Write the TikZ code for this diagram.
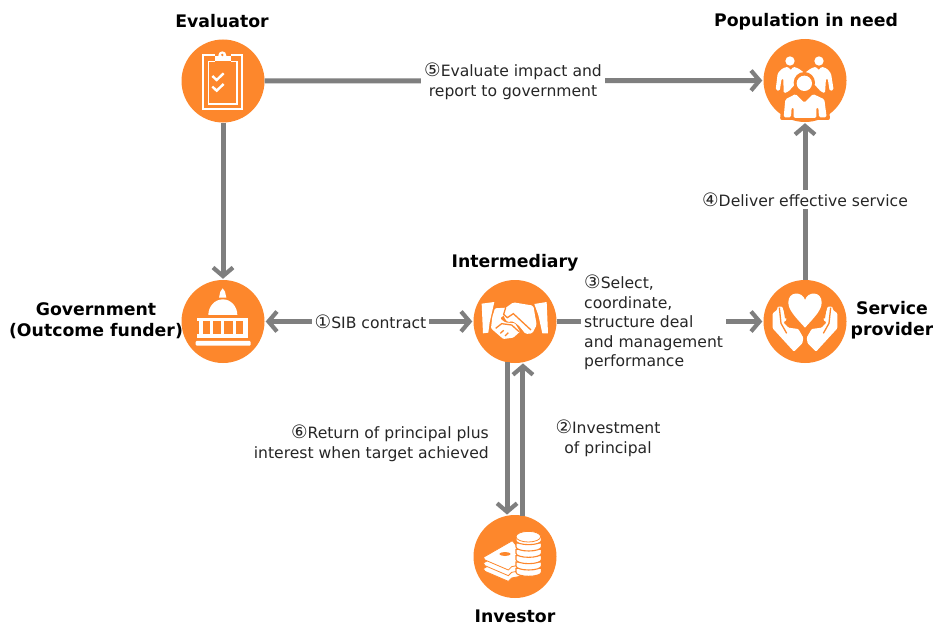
\documentclass[tikz,border=0pt]{standalone}
\usepackage{fontspec}
\setmainfont{DejaVu Sans}
\usetikzlibrary{arrows.meta}
\definecolor{org}{RGB}{253,135,44}
\definecolor{gr}{RGB}{127,127,127}
\definecolor{txt}{RGB}{38,38,38}
\newcommand{\dg}[1]{{\fontsize{18.5}{19.5}\selectfont #1}}
\tikzset{
  hub/.style={circle,fill=org,minimum size=83pt,inner sep=0pt,draw=none},
  barb/.tip={Straight Barb[length=8.5pt,width=20pt,line width=4.2pt]},
  arr/.style={gr,line width=5pt,-barb,shorten >=1pt},
  arrb/.style={gr,line width=5pt,barb-barb,shorten >=1pt,shorten <=1pt},
  lab/.style={fill=white,text=txt,font=\fontsize{15.6}{19.5}\selectfont,inner sep=3pt,align=center},
  ttl/.style={text=black,font=\fontsize{17.3}{21}\selectfont\bfseries,inner sep=0pt,align=center},
  ico/.style={fill=white,draw=none},
  iline/.style={draw=white,fill=none,line width=2pt},
  cut/.style={draw=org,line width=1.3pt}
}
\begin{document}
\begin{tikzpicture}[x=1pt,y=-1pt]
\useasboundingbox (0,0) rectangle (933,626);
\fill[white] (0,0) rectangle (933,626);
\node[hub] (eval) at (223,81) {};
\node[hub] (pop) at (805,80.5) {};
\node[hub] (gov) at (223,321.5) {};
\node[hub] (inter) at (515,321.5) {};
\node[hub] (serv) at (805,321.5) {};
\node[hub] (inv) at (515,556.5) {};
% connectors
\draw[arr] (eval) -- (pop);
\draw[arr] (eval) -- (gov);
\draw[arrb] (gov) -- (inter);
\draw[arr] (inter) -- (serv);
\draw[arr] (serv) -- (pop);
\draw[arr] (inter.-101) -- (inv.101);
\draw[arr] (inv.79) -- (inter.-79);
% labels
\node[lab] at (513,81.5) {\dg{⑤}Evaluate impact and\\report to government};
\node[lab] at (370.5,321.5) {\dg{①}SIB contract};
\node[lab] at (805,199.5) {\dg{④}Deliver effective service};
\node[lab,align=left,anchor=west,minimum height=100pt] at (581,322.5) {\dg{③}Select,\\coordinate,\\structure deal\\and management\\performance};
\node[lab,fill=none] at (608,438.5) {\dg{②}Investment\\of principal};
\node[lab,fill=none,align=right,anchor=east] at (492,443.5) {\dg{⑥}Return of principal plus\\interest when target achieved};
% titles
\node[ttl] at (222,21) {Evaluator};
\node[ttl] at (806,22) {Population in need};
\node[ttl] at (96,320.5) {Government\\(Outcome funder)};
\node[ttl] at (515,263) {Intermediary};
\node[ttl] at (892,320) {Service\\provider};
\node[ttl] at (515,616) {Investor};
% clipboard
\begin{scope}[shift={(160,20)},x=.3333pt,y=-.3333pt]
\draw[iline] (165,104) -- (130,104) -- (130,268) -- (247,268) -- (247,104) -- (212,104);
\draw[iline,line width=1.6pt] (165,124) -- (146,124) -- (146,252) -- (231,252) -- (231,124) -- (212,124);
\fill[ico] (187,106) circle [radius=12];
\fill[ico] (166,108) -- (212,108) -- (212,122) -- (166,122) -- cycle;
\fill[org] (187,105) circle [radius=4];
\draw[white,line width=2.4pt] (157,168) -- (170,180) -- (191,160);
\draw[white,line width=2.4pt] (157,200) -- (170,212) -- (191,192);
\end{scope}
% people
\begin{scope}[shift={(745,30)},x=.3333pt,y=-.3333pt]
\fill[ico] (135,93) circle [radius=14];
\fill[ico] (222,93) circle [radius=14];
\fill[ico,rounded corners=1.5pt] (92,180) -- (98,130) -- (112,115) -- (130,110) -- (137,122) -- (144,110) -- (160,115) -- (180,130) -- (130,185) -- (116,190) -- (115,145) -- (110,145) -- (104,183) -- cycle;
\fill[ico,rounded corners=1.5pt] (266,180) -- (258,130) -- (245,115) -- (228,110) -- (221,122) -- (214,110) -- (198,115) -- (178,130) -- (228,185) -- (240,190) -- (243,145) -- (248,145) -- (254,183) -- cycle;
\fill[org] (178,158) circle [radius=32];
\fill[org,rounded corners=2pt] (105,270) -- (112,195) -- (150,180) -- (210,180) -- (250,195) -- (255,270) -- cycle;
\fill[ico] (178,160) circle [radius=23];
\fill[ico,rounded corners=1.5pt] (116,262) -- (121,208) -- (152,192) -- (178,218) -- (204,192) -- (238,208) -- (245,262) -- (222,262) -- (220,232) -- (214,232) -- (214,264) -- (146,264) -- (146,232) -- (140,232) -- (138,262) -- cycle;
\end{scope}
% capitol
\begin{scope}[shift={(160,265)},x=.3333pt,y=-.3333pt]
\fill[ico] (188,70) -- (195,80) -- (199,98) -- (177,98) -- (181,80) -- cycle;
\fill[ico] (145,150) arc[start angle=180,end angle=360,x radius=43.5,y radius=47] -- cycle;
\fill[ico] (112,158) rectangle (265,168);
\fill[ico] (116,168) rectangle (129,208);
\fill[ico] (250,168) rectangle (263,208);
\fill[ico] (150,168) rectangle (160,208);
\fill[ico] (184,168) rectangle (193,208);
\fill[ico] (218,168) rectangle (228,208);
\fill[ico] (112,208) rectangle (265,218);
\fill[ico,rounded corners=1pt] (107,228) rectangle (272,242);
\end{scope}
% handshake
\begin{scope}[shift={(455,265)},x=.3333pt,y=-.3333pt]
\fill[ico] (80,116) -- (118,111) -- (104,172) -- (100,203) -- (84,205) -- cycle;
\fill[ico] (238,117) -- (275,111) -- (279,205) -- (262,205) -- (250,150) -- cycle;
\fill[ico,rounded corners=1pt] (120,130) -- (152,128) -- (148,150) -- (135,160) -- (150,172) -- (180,175) -- (195,200) -- (175,218) -- (145,222) -- (125,205) -- (108,190) -- (112,155) -- cycle;
\fill[ico,rounded corners=1.5pt] (150,130) -- (175,112) -- (235,122) -- (245,180) -- (232,205) -- (212,207) -- (190,180) -- (172,168) -- (158,172) -- (146,155) -- cycle;
\draw[cut] (152,128) -- (146,148) -- (157,158) -- (175,146) -- (228,195);
\draw[cut] (122,190) -- (140,176) -- (170,180) -- (192,200);
\draw[cut] (136,205) -- (146,196);
\draw[cut] (150,213) -- (160,203);
\end{scope}
% heart hands
\begin{scope}[shift={(745,265)},x=.3333pt,y=-.3333pt]
\fill[ico] (180,188) .. controls (150,155) and (130,135) .. (130,112) .. controls (130,78) and (172,78) .. (180,105) .. controls (188,78) and (230,78) .. (230,112) .. controls (230,135) and (210,155) .. (180,188) -- cycle;
\fill[ico,rounded corners=1pt] (83,190) -- (83,145) -- (96,135) -- (98,125) -- (112,125) -- (125,165) -- (115,172) -- (130,188) -- (160,192) -- (175,218) -- (172,235) -- (147,260) -- cycle;
\fill[ico,rounded corners=1pt] (277,190) -- (277,145) -- (264,135) -- (262,125) -- (248,125) -- (235,165) -- (245,172) -- (230,188) -- (200,192) -- (185,218) -- (188,235) -- (213,260) -- cycle;
\draw[cut] (103,128) -- (108,175) -- (125,205);
\draw[cut] (257,128) -- (252,175) -- (235,205);
\draw[cut] (117,128) -- (122,160);
\draw[cut] (243,128) -- (238,160);
\end{scope}
% investor
\begin{scope}[shift={(455,500)},x=.3333pt,y=-.3333pt]
\foreach \d in {34,17,0}{
  \fill[ico,draw=org,line width=.8pt] (85,172+\d) -- (172,122+\d) -- (195,150+\d) -- (195,195+\d) -- (170,200+\d) -- (160,210+\d) -- (90,180+\d) -- cycle;
}
\fill[org] (150,162) ellipse [x radius=17,y radius=6];
\foreach \d in {95,76,57,38,19,0}{
  \fill[ico,draw=org,line width=1.1pt] (183,110+\d) -- (183,122+\d) arc[start angle=180,end angle=0,x radius=38,y radius=12] -- (259,110+\d) -- cycle;
}
\fill[ico,draw=org,line width=.8pt] (220,110) ellipse [x radius=37,y radius=16];
\end{scope}
\end{tikzpicture}
\end{document}
